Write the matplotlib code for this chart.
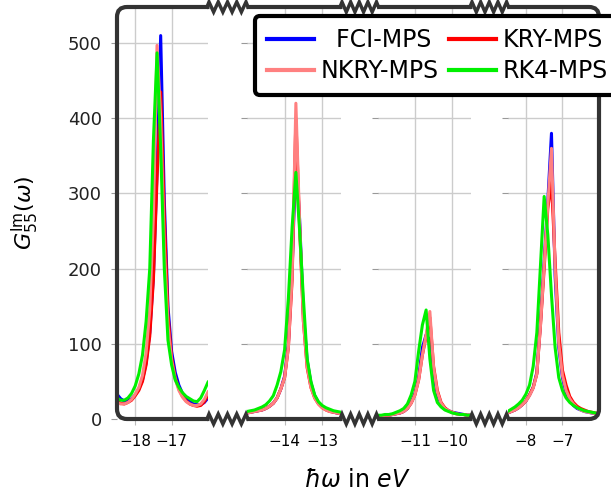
import numpy as np
import matplotlib.pyplot as plt
from matplotlib.patches import FancyBboxPatch

# energy grids of the four windows (eV)
x_p1 = np.linspace(-18.5, -16.0, 26)
x_p2 = np.linspace(-15.0, -12.5, 26)
x_p3 = np.linspace(-12.0, -9.5, 26)
x_p4 = np.linspace(-8.5, -6.0, 26)

xticks = [[-18, -17], [-14, -13], [-11, -10], [-8, -7]]

# window 1
fci_p1 = [33, 27, 24, 24, 27, 32, 40, 52, 75, 115, 190, 330, 510, 290, 150, 90, 62, 45, 34, 27, 23, 20, 19, 19, 22, 28]
kry_p1 = [24, 21, 20, 22, 25, 31, 38, 50, 72, 110, 185, 320, 435, 270, 140, 82, 55, 40, 30, 24, 20, 18, 17, 18, 23, 32]
nkry_p1 = [22, 20, 20, 22, 26, 33, 42, 58, 88, 145, 270, 497, 400, 230, 125, 78, 53, 38, 29, 23, 20, 18, 18, 20, 26, 36]
rk4_p1 = [28, 25, 25, 28, 34, 44, 60, 85, 130, 200, 370, 487, 360, 200, 105, 72, 52, 42, 35, 30, 27, 24, 23, 28, 38, 49]

# window 2
fci_p2 = [8, 9, 10, 11, 12, 14, 17, 21, 28, 40, 57, 100, 200, 350, 265, 140, 78, 48, 31, 22, 16, 13, 11, 9, 8, 7]
kry_p2 = [8, 9, 10, 11, 12, 14, 17, 21, 28, 40, 55, 95, 185, 400, 255, 130, 68, 42, 28, 20, 15, 12, 10, 9, 8, 7]
nkry_p2 = [8, 9, 10, 11, 12, 14, 17, 21, 28, 40, 55, 95, 190, 420, 260, 130, 70, 42, 28, 20, 15, 12, 10, 9, 8, 7]
rk4_p2 = [10, 11, 12, 14, 16, 19, 24, 31, 45, 63, 92, 160, 255, 328, 250, 160, 80, 50, 32, 23, 18, 15, 13, 11, 10, 9]

# window 3
fci_p3 = [4, 4, 5, 5, 6, 7, 8, 10, 14, 22, 34, 55, 95, 112, 105, 60, 32, 20, 14, 11, 9, 8, 7, 6, 5, 5]
kry_p3 = [4, 4, 5, 5, 6, 7, 8, 10, 14, 21, 32, 52, 85, 110, 135, 70, 38, 22, 15, 11, 9, 7, 6, 6, 5, 5]
nkry_p3 = [4, 4, 5, 5, 6, 7, 8, 10, 14, 21, 32, 52, 85, 112, 143, 68, 36, 21, 14, 11, 9, 7, 6, 6, 5, 5]
rk4_p3 = [5, 5, 6, 6, 7, 9, 11, 14, 20, 32, 50, 90, 125, 145, 80, 38, 22, 16, 12, 10, 8, 7, 6, 6, 5, 5]

# window 4
fci_p4 = [8, 10, 12, 15, 19, 24, 32, 42, 62, 130, 210, 290, 380, 190, 95, 55, 35, 25, 18, 14, 12, 10, 9, 8, 7, 7]
kry_p4 = [8, 10, 12, 15, 19, 24, 32, 42, 60, 125, 200, 280, 315, 210, 115, 65, 45, 30, 22, 17, 14, 12, 10, 9, 8, 7]
nkry_p4 = [8, 10, 12, 15, 19, 24, 31, 41, 60, 125, 205, 285, 360, 200, 100, 58, 38, 27, 20, 15, 12, 10, 9, 8, 7, 6]
rk4_p4 = [10, 13, 16, 20, 25, 33, 45, 70, 115, 205, 296, 245, 165, 95, 55, 38, 28, 22, 18, 15, 13, 11, 10, 9, 8, 7]

panels = [
    (x_p1, fci_p1, kry_p1, nkry_p1, rk4_p1),
    (x_p2, fci_p2, kry_p2, nkry_p2, rk4_p2),
    (x_p3, fci_p3, kry_p3, nkry_p3, rk4_p3),
    (x_p4, fci_p4, kry_p4, nkry_p4, rk4_p4),
]

W, H = 611, 497
fig = plt.figure(figsize=(W / 100, H / 100), dpi=100)

# pixel extents of the windows
px = [(117, 208), (247, 341), (377.5, 471), (507.6, 599)]
top, bot = 7, 419

lines = None
for i, (x, fci, kry, nkry, rk4) in enumerate(panels):
    l, r = px[i]
    ax = fig.add_axes([l / W, 1 - bot / H, (r - l) / W, (bot - top) / H])
    lf, = ax.plot(x, fci, color="#0000ff", lw=2.2)
    lk, = ax.plot(x, kry, color="#ff0000", lw=2.2)
    ln, = ax.plot(x, nkry, color="#ff8080", lw=2.2)
    lr, = ax.plot(x, rk4, color="#00f000", lw=2.2)
    if lines is None:
        lines = [lf, ln, lk, lr]
    ax.set_xlim(x[0], x[-1])
    ax.set_ylim(0, 548)
    ax.set_xticks(xticks[i])
    ax.set_yticks([0, 100, 200, 300, 400, 500])
    ax.grid(True, color="#cccccc", lw=1.0)
    for s in ax.spines.values():
        s.set_visible(False)
    ax.tick_params(axis="x", colors="#bbbbbb", labelcolor="black",
                   labelsize=11, length=4, pad=7)
    ax.tick_params(axis="y", colors="#999999", labelcolor="#222222",
                   labelsize=13, length=4, pad=7, labelleft=(i == 0))

# rounded frame with break marks
ov = fig.add_axes([0, 0, 1, 1], zorder=3)
ov.set_xlim(0, W)
ov.set_ylim(H, 0)
ov.axis("off")
ov.patch.set_alpha(0)
frame = FancyBboxPatch((px[0][0], top), px[-1][1] - px[0][0], bot - top,
                       boxstyle="round,pad=0,rounding_size=10",
                       fill=False, ec="#333333", lw=3, zorder=1)
ov.add_patch(frame)
for i in range(3):
    g0, g1 = px[i][1], px[i + 1][0]
    for yb in (top, bot):
        ov.plot([g0 + 1, g1 - 1], [yb, yb], color="white", lw=5, zorder=2,
                solid_capstyle="butt")
        n = 9
        step = (g1 - g0 - 2) / (n - 1)
        zx = [g0 + 1 + k * step for k in range(n)]
        zy = [yb + (-5 if k % 2 == 0 else 5) for k in range(n)]
        zx = [g0 - 1] + zx + [g1 + 1]
        zy = [yb] + zy + [yb]
        ov.plot(zx, zy, color="#333333", lw=2.5, zorder=3,
                solid_joinstyle="miter")

fig.text(25 / W, 1 - 213 / H, r"$G^{\mathrm{Im}}_{55}(\omega)$", rotation=90,
         ha="center", va="center", fontsize=16)
fig.text(357 / W, 1 - 480 / H, r"$\hbar\omega$ in $eV$", ha="center",
         va="center", fontsize=17)

leg = fig.legend(lines, ["  FCI-MPS", "NKRY-MPS", "KRY-MPS", "RK4-MPS"],
                 loc="upper left", bbox_to_anchor=(255 / W, 1 - 16 / H),
                 ncol=2, fontsize=17, frameon=True, fancybox=True,
                 framealpha=1, edgecolor="black", handlelength=2.0,
                 handletextpad=0.3, columnspacing=0.4, borderpad=0.5,
                 labelspacing=0.3, borderaxespad=0)
leg.get_frame().set_linewidth(3)
leg.set_zorder(5)
for h in leg.legend_handles:
    h.set_linewidth(3)

fig.savefig("out.png", dpi=100)
